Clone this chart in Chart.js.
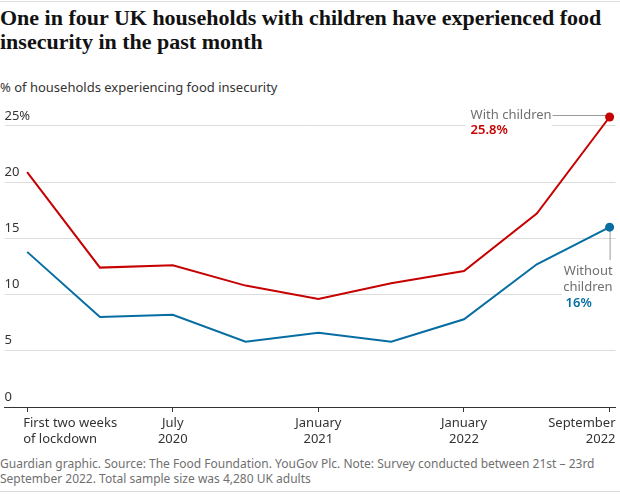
<!DOCTYPE html>
<html>
<head>
<meta charset="utf-8">
<script src="https://cdn.jsdelivr.net/npm/chart.js@4"></script>
<style>
  html, body { margin: 0; padding: 0; background: #fff; }
  body { width: 620px; height: 494px; position: relative; overflow: hidden; font-family: 'Noto Sans', sans-serif; }
  .rule { position: absolute; left: 0; width: 620px; height: 1px; background: #dcdcdc; }
  #title { position: absolute; left: 0; top: 6px; width: 620px; font-family: 'Liberation Serif', serif; font-weight: 700; font-size: 22px; line-height: 24px; color: #121212; }
  #sub { position: absolute; left: 0; top: 78px; font-size: 13px; color: #333; }
  #foot { position: absolute; left: 0; top: 456px; font-size: 12px; line-height: 15px; color: #707070; width: 620px; }
  #wrap { position: absolute; left: 0; top: 91px; width: 620px; height: 360px; }
</style>
</head>
<body>
<div class="rule" style="top:1px"></div>
<div id="title">One in four UK households with children have experienced food insecurity in the past month</div>
<div id="sub">% of households experiencing food insecurity</div>
<div id="wrap"><canvas id="chart"></canvas></div>
<div id="foot">Guardian graphic. Source: The Food Foundation. YouGov Plc. Note: Survey conducted between 21st – 23rd September 2022. Total sample size was 4,280 UK adults</div>
<div class="rule" style="top:491px"></div>

<script>
// survey waves (index 0..8), only some are labelled on the axis
const waves        = [0, 1, 2, 3, 4, 5, 6, 7, 8];
const withChildren = [20.9, 12.4, 12.6, 10.8, 9.6, 11.0, 12.1, 17.2, 25.8];
const noChildren   = [13.8, 8.0, 8.2, 5.8, 6.6, 5.8, 7.8, 12.7, 16.0];
const xTickWaves   = [0, 2, 4, 6, 8];
const xTickLabels  = [['First two weeks', 'of lockdown'], ['July', '2020'], ['January', '2021'], ['January', '2022'], ['September', '2022']];
const yTicks       = [0, 5, 10, 15, 20, 25];

const RED  = '#c70000';
const BLUE = '#056da1';
const FONT = "'Noto Sans', sans-serif";

const lastOnly = arr => arr.map((_, i) => i === arr.length - 1 ? 4.5 : 0);

/* ------------------------------------------------------------
   labels + annotations drawn over the grid
   ------------------------------------------------------------ */
const annotate = {
  id: 'annotate',
  beforeDatasetsDraw(chart) {
    const { ctx, scales: { x, y } } = chart;
    const last = waves.length - 1;
    const px   = x.getPixelForValue(waves[last]);
    const pyR  = y.getPixelForValue(withChildren[last]);
    const pyB  = y.getPixelForValue(noChildren[last]);

    ctx.save();
    // white knock-outs behind the labels
    ctx.fillStyle = '#fff';
    ctx.fillRect(px - 144, pyR - 12, 86, 34);
    ctx.fillRect(px - 48, pyB + 32, 54, 52);

    // with children
    ctx.font = `13px ${FONT}`;
    ctx.fillStyle = '#707070';
    ctx.textBaseline = 'middle';
    ctx.textAlign = 'left';
    ctx.fillText('With children', px - 139, pyR - 2);
    ctx.strokeStyle = '#999';
    ctx.lineWidth = 1;
    ctx.beginPath();
    ctx.moveTo(px - 57, pyR - 1.5);
    ctx.lineTo(px - 3, pyR - 1.5);
    ctx.stroke();
    ctx.font = `600 13px ${FONT}`;
    ctx.fillStyle = RED;
    ctx.fillText(withChildren[last] + '%', px - 139, pyR + 13);

    // without children
    ctx.beginPath();
    ctx.moveTo(px + 0.5, pyB + 3);
    ctx.lineTo(px + 0.5, pyB + 33);
    ctx.stroke();
    ctx.textAlign = 'right';
    ctx.font = `13px ${FONT}`;
    ctx.fillStyle = '#707070';
    ctx.fillText('Without', px + 3, pyB + 44);
    ctx.fillText('children', px + 3, pyB + 60);
    ctx.textAlign = 'left';
    ctx.font = `600 13px ${FONT}`;
    ctx.fillStyle = BLUE;
    ctx.fillText(noChildren[last] + '%', px - 44, pyB + 76);
    ctx.restore();
  },
  afterDraw(chart) {
    const { ctx, scales: { x }, chartArea } = chart;
    ctx.save();
    ctx.font = `13px ${FONT}`;
    ctx.fillStyle = '#333';
    ctx.textBaseline = 'middle';
    xTickWaves.forEach((w, i) => {
      const p = x.getPixelForValue(w);
      let tx = p;
      if (i === 0) { ctx.textAlign = 'left'; tx = p - 4; }
      else if (i === xTickWaves.length - 1) { ctx.textAlign = 'right'; tx = chartArea.right; }
      else ctx.textAlign = 'center';
      xTickLabels[i].forEach((line, j) => ctx.fillText(line, tx, chartArea.bottom + 16 + j * 16));
    });
    ctx.restore();
  },
};

new Chart(document.getElementById('chart'), {
  type: 'line',
  data: {
    datasets: [
      {
        label: 'With children',
        data: waves.map((w, i) => ({ x: w, y: withChildren[i] })),
        borderColor: RED,
        backgroundColor: RED,
        borderWidth: 2,
        pointRadius: lastOnly(withChildren),
        pointBorderWidth: 0,
        tension: 0,
      },
      {
        label: 'Without children',
        data: waves.map((w, i) => ({ x: w, y: noChildren[i] })),
        borderColor: BLUE,
        backgroundColor: BLUE,
        borderWidth: 2,
        pointRadius: lastOnly(noChildren),
        pointBorderWidth: 0,
        tension: 0,
      },
    ],
  },
  options: {
    responsive: true,
    maintainAspectRatio: false,
    animation: false,
    clip: false,
    layout: { padding: { top: 12.5, left: 0, right: 0, bottom: 0 } },
    plugins: { legend: { display: false }, tooltip: { enabled: false } },
    scales: {
      x: {
        type: 'linear',
        min: -0.311,
        max: 8.081,
        afterBuildTicks: s => { s.ticks = xTickWaves.map(v => ({ value: v })); },
        afterFit: s => { s.height = 44; },
        ticks: { display: false },
        grid: { drawOnChartArea: false, drawTicks: true, tickLength: 5, color: '#333', lineWidth: 1 },
        border: { display: true, color: '#333', width: 1 },
      },
      y: {
        min: 0,
        max: 27,
        afterBuildTicks: s => { s.ticks = yTicks.map(v => ({ value: v })); },
        afterFit: s => { s.width = 0; },
        ticks: {
          mirror: true,
          padding: 0,
          labelOffset: -10,
          color: '#333',
          font: { family: FONT, size: 13 },
          callback: v => v === 25 ? v + '%' : v,
        },
        grid: { color: '#dcdcdc', drawTicks: false, lineWidth: 1 },
        border: { display: false },
      },
    },
  },
  plugins: [annotate],
});
</script>
</body>
</html>
